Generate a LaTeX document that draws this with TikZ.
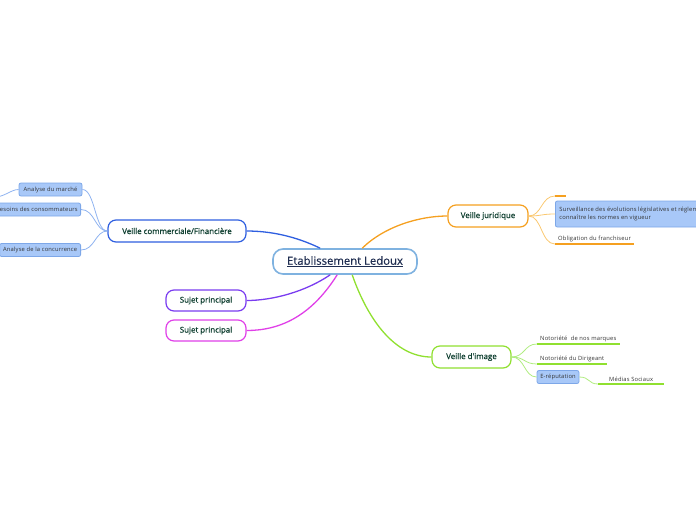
\documentclass[tikz,border=0pt]{standalone}
\usepackage{fontspec}
\setmainfont{Open Sans}
\newfontfamily\subfont{Open Sans}[FakeBold=0.8]
\newfontfamily\centfont{Open Sans}[FakeBold=0.4]
\newfontfamily\leaffont{Open Sans}[LetterSpace=3]
\definecolor{cblue}{HTML}{2F5FE0}
\definecolor{lblue}{HTML}{8FB3F0}
\definecolor{leaffill}{HTML}{A8C8F8}
\definecolor{leafdraw}{HTML}{7DA7E8}
\definecolor{cpurple}{HTML}{7A3CF0}
\definecolor{cmag}{HTML}{E040E8}
\definecolor{corange}{HTML}{F5A020}
\definecolor{lorange}{HTML}{FAC870}
\definecolor{cgreen}{HTML}{90E030}
\definecolor{lgreen}{HTML}{B0EC80}
\definecolor{centbd}{HTML}{7FB2E0}
\definecolor{subtxt}{HTML}{0F3F30}
\definecolor{leaftxt}{HTML}{333333}
\definecolor{centtxt}{HTML}{1F2D50}
\begin{document}
\begin{tikzpicture}[x=1pt,y=-1pt,
  central/.style={draw=centbd,line width=1.6pt,fill=white,rounded corners=10pt,minimum width=144pt,minimum height=25pt,inner sep=0pt,font=\centfont\fontsize{11.3}{13}\selectfont,text=centtxt},
  subnode/.style={draw=#1,line width=1.2pt,fill=white,rounded corners=8pt,minimum height=22pt,inner sep=0pt,font=\subfont\fontsize{7.9}{9}\selectfont,text=subtxt},
  leafbox/.style={draw=leafdraw,line width=0.8pt,fill=leaffill,rounded corners=2pt,minimum height=13pt,inner xsep=3pt,inner ysep=0pt,font=\leaffont\fontsize{5.8}{7.2}\selectfont,text=leaftxt},
  leaftext/.style={inner xsep=3pt,inner ysep=2pt,font=\leaffont\fontsize{5.8}{7}\selectfont,text=leaftxt,anchor=south west},
  main/.style={line width=1.3pt},
  twig/.style={line width=0.8pt}
]
\useasboundingbox (0,0) rectangle (696,520);

% central
\node[central] (c) at (345,261.5) {\underline{Etablissement Ledoux}};

% left branch
\node[subnode=cblue,minimum width=138pt] (vc) at (177,231) {Veille commerciale/Financière};
\node[leafbox,minimum width=63pt] (am) at (50.5,189.5) {Analyse du marché};
\node[leafbox,anchor=east] (bc) at (81,209.5) {Besoins des consommateurs};
\node[leafbox,anchor=east,minimum width=81pt] (ac) at (81,250) {Analyse de la concurrence};
\coordinate (off) at (-12,198);

% sujets
\node[subnode=cpurple,minimum width=80pt,minimum height=21pt] (s1) at (206,300.5) {Sujet principal};
\node[subnode=cmag,minimum width=80pt,minimum height=21pt] (s2) at (206,330.5) {Sujet principal};

% right top branch
\node[subnode=corange,minimum width=80pt] (vj) at (488,216) {Veille juridique};
\coordinate (e1) at (555,196);
\coordinate (e1b) at (566,196);
\node[leafbox,anchor=west,minimum height=26pt,align=left,inner xsep=4pt] (sv) at (555,214)
  {Surveillance des évolutions législatives et réglementaires\\connaître les normes en vigueur};
\node[leaftext] (of) at (555,244) {Obligation du franchiseur};

% right bottom branch
\node[subnode=cgreen,minimum width=79pt] (vi) at (471.5,357) {Veille d'image};
\node[leaftext] (nm) at (537,344) {Notoriété \ de nos marques};
\node[leaftext] (nd) at (537,364) {Notoriété du Dirigeant};
\node[leafbox,minimum width=42pt] (er) at (558,377) {E-réputation};
\node[leaftext,inner xsep=11pt] (ms) at (598,384) {Médias Sociaux};

% main connectors
\draw[main,cblue] (c.north west) ++(48,0) coordinate (c1) .. controls (295,236) and (270,231) .. (vc.east);
\draw[main,cpurple] (c.south west) ++(58,0) coordinate (c2) .. controls (305,292) and (272,300.5) .. (s1.east);
\draw[main,cmag] (c.south west) ++(65,0) coordinate (c3) .. controls (310,318) and (278,330.5) .. (s2.east);
\draw[main,corange] (c.north west) ++(90,0) coordinate (c4) .. controls (385,226) and (420,216) .. (vj.west);
\draw[main,cgreen] (c.south west) ++(80,0) coordinate (c5) .. controls (368,320) and (395,357) .. (vi.west);

% left twigs
\begin{scope}[twig,lblue]
\draw (vc.west) .. controls (95,231) and (95,189.5) .. (am.east);
\draw (vc.west) .. controls (95,231) and (95,209.5) .. (bc.east);
\draw (vc.west) .. controls (95,231) and (95,250) .. (ac.east);
\draw (am.west) .. controls (10,189.5) and (5,198) .. (off);
\end{scope}

% orange twigs
\begin{scope}[twig,lorange]
\draw (vj.east) .. controls (542,216) and (541,196) .. (e1);
\draw (vj.east) .. controls (542,216) and (541,214) .. (sv.west);
\draw (vj.east) .. controls (542,216) and (541,244) .. (of.south west);
\end{scope}
\draw[corange,line width=1.2pt] (e1) -- (e1b);
\draw[corange,line width=1.2pt] (of.south west) -- (of.south east);

% green twigs
\begin{scope}[twig,lgreen]
\draw (vi.east) .. controls (525,357) and (524,344) .. (nm.south west);
\draw (vi.east) .. controls (525,357) and (524,364) .. (nd.south west);
\draw (vi.east) .. controls (525,357) and (524,377) .. (er.west);
\draw (er.east) .. controls (590,377) and (588,384) .. (ms.south west);
\end{scope}
\draw[cgreen,line width=1.2pt] (nm.south west) -- (nm.south east);
\draw[cgreen,line width=1.2pt] (nd.south west) -- (nd.south east);
\draw[cgreen,line width=1.2pt] (ms.south west) -- (ms.south east);
\end{tikzpicture}
\end{document}
